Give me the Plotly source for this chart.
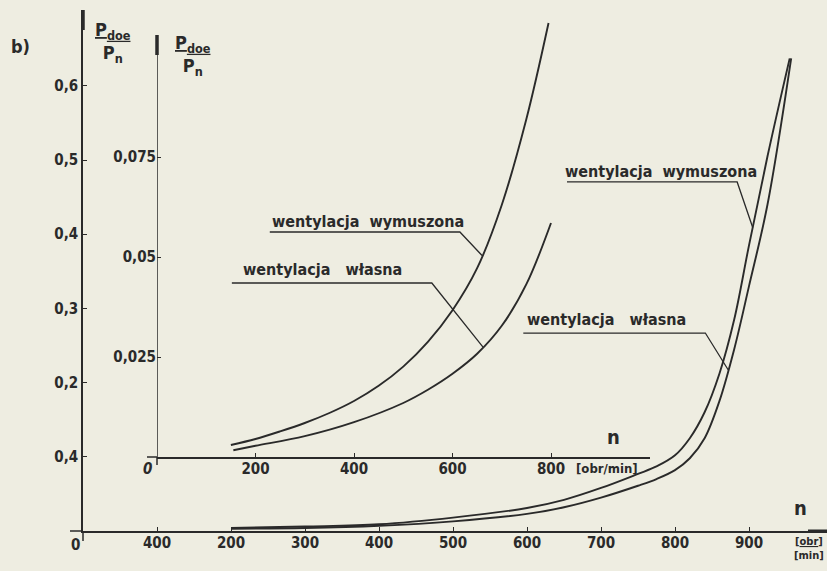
import numpy as np
import plotly.graph_objects as go

# ---------------- data ----------------
# outer chart (n in obr/min, P_dop/P_n)
n_out_wym = [200, 300, 400, 500, 600, 650, 700, 750, 775, 800, 820, 840, 860, 880, 900, 925, 955]
p_out_wym = [0.004, 0.006, 0.009, 0.018, 0.031, 0.042, 0.058, 0.077, 0.087, 0.102, 0.125, 0.160, 0.212, 0.285, 0.385, 0.505, 0.637]
n_out_wl = [200, 300, 400, 500, 600, 650, 700, 750, 775, 800, 820, 840, 860, 880, 900, 925, 957]
p_out_wl = [0.003, 0.004, 0.007, 0.013, 0.023, 0.032, 0.045, 0.061, 0.070, 0.082, 0.098, 0.125, 0.175, 0.245, 0.330, 0.440, 0.637]

# inner chart
n_in_wym = [150, 200, 250, 300, 350, 400, 450, 500, 550, 600, 650, 700, 750, 795]
p_in_wym = [0.003, 0.0045, 0.0064, 0.0085, 0.0110, 0.0140, 0.0178, 0.0226, 0.0288, 0.0367, 0.0472, 0.0630, 0.0845, 0.1085]
n_in_wl = [155, 200, 300, 400, 500, 550, 600, 650, 700, 750, 800]
p_in_wl = [0.0017, 0.0028, 0.0052, 0.0087, 0.0135, 0.0168, 0.0208, 0.0258, 0.0328, 0.0432, 0.0585]

out_x_ticks = [100, 200, 300, 400, 500, 600, 700, 800, 900]
out_x_text = ["400", "200", "300", "400", "500", "600", "700", "800", "900"]
out_y_ticks = [0.1, 0.2, 0.3, 0.4, 0.5, 0.6]
out_y_text = ["0,4", "0,2", "0,3", "0,4", "0,5", "0,6"]
in_x_ticks = [200, 400, 600, 800]
in_x_text = ["200", "400", "600", "800"]
in_y_ticks = [0.025, 0.05, 0.075]
in_y_text = ["0,025", "0,05", "0,075"]

lbl_wym = "<b>wentylacja&nbsp;&nbsp;wymuszona</b>"
lbl_wl = "<b>wentylacja&nbsp;&nbsp;&nbsp;własna</b>"

# ---------------- style ----------------
W, H = 827, 571
INK = "#2a2a2a"
BG = "#eeede1"
FONT = "DejaVu Sans Condensed, DejaVu Sans"

def px(x):
    return x / W

def py(y):
    return 1 - y / H

fig = go.Figure()

line = dict(color=INK, width=1.9, shape="spline", smoothing=1.0)
fig.add_trace(go.Scatter(x=n_out_wym, y=p_out_wym, mode="lines", line=line, xaxis="x", yaxis="y", hoverinfo="skip"))
fig.add_trace(go.Scatter(x=n_out_wl, y=p_out_wl, mode="lines", line=line, xaxis="x", yaxis="y", hoverinfo="skip"))
fig.add_trace(go.Scatter(x=n_in_wym, y=p_in_wym, mode="lines", line=line, xaxis="x2", yaxis="y2", hoverinfo="skip"))
fig.add_trace(go.Scatter(x=n_in_wl, y=p_in_wl, mode="lines", line=line, xaxis="x2", yaxis="y2", hoverinfo="skip"))

tickfont = dict(family=FONT, size=15, color=INK, weight="bold")
common = dict(showgrid=False, zeroline=False, ticks="inside", ticklen=4, tickwidth=1.3,
              tickcolor=INK, tickfont=tickfont, fixedrange=True)

# outer: origin at (83, 531) px; 0.74 px per obr/min; 742 px per unit
out_top_px = 10
fig.update_layout(
    xaxis=dict(domain=[px(83), 1.0], range=[0, (W - 83) / 0.74], anchor="y",
               tickvals=out_x_ticks, ticktext=out_x_text, ticklabelstandoff=-3,
               showline=True, linecolor=INK, linewidth=1.5, **common),
    yaxis=dict(domain=[py(531), py(out_top_px)], range=[0, (531 - out_top_px) / 742], anchor="x",
               tickvals=out_y_ticks, ticktext=out_y_text,
               showline=True, linecolor=INK, linewidth=1.5, **common),
    # inner: origin at (157, 457) px; 0.4925 px per obr/min; 4000 px per unit
    xaxis2=dict(domain=[px(157), px(650)], range=[0, (650 - 157) / 0.4925], anchor="y2",
                tickvals=in_x_ticks, ticktext=in_x_text, ticklabelstandoff=-3,
                showline=True, linecolor=INK, linewidth=1.5, **common),
    yaxis2=dict(domain=[py(457), py(out_top_px)], range=[0, (457 - out_top_px) * 0.00025], anchor="x2",
                tickvals=in_y_ticks, ticktext=in_y_text,
                showline=False, **common),
)

inner_axis_top = (457 - 35) * 0.00025

shapes = []
# inner y axis line
shapes.append(dict(type="line", xref="x2", yref="y2", x0=0, x1=0, y0=0, y1=inner_axis_top,
                   line=dict(color=INK, width=1.5)))
# thick tips of the vertical axes
shapes.append(dict(type="line", xref="paper", yref="paper", x0=px(83), x1=px(83), y0=py(10), y1=py(30),
                   line=dict(color=INK, width=3.5)))
shapes.append(dict(type="line", xref="paper", yref="paper", x0=px(157), x1=px(157), y0=py(35), y1=py(55),
                   line=dict(color=INK, width=3.5)))
# thick tip at right of outer x axis
shapes.append(dict(type="line", xref="paper", yref="paper", x0=px(808), x1=px(827), y0=py(531), y1=py(531),
                   line=dict(color=INK, width=3)))
# axis extensions beyond origins
shapes.append(dict(type="line", xref="paper", yref="paper", x0=px(70), x1=px(83), y0=py(531), y1=py(531),
                   line=dict(color=INK, width=1.5)))
shapes.append(dict(type="line", xref="paper", yref="paper", x0=px(83), x1=px(83), y0=py(531), y1=py(541),
                   line=dict(color=INK, width=1.5)))
shapes.append(dict(type="line", xref="paper", yref="paper", x0=px(147), x1=px(157), y0=py(457), y1=py(457),
                   line=dict(color=INK, width=1.5)))
shapes.append(dict(type="line", xref="paper", yref="paper", x0=px(157), x1=px(157), y0=py(457), y1=py(465),
                   line=dict(color=INK, width=1.5)))

def leader(xr, yr, x_start, x_end, y_ul, n_tip, ns, ps):
    p_tip = float(np.interp(n_tip, ns, ps))
    return dict(type="path", xref=xr, yref=yr,
                path=f"M {x_start},{y_ul} L {x_end},{y_ul} L {n_tip},{p_tip}",
                line=dict(color=INK, width=1.3))

shapes.append(leader("x2", "y2", 229, 615, 0.05625, 660, n_in_wym, p_in_wym))
shapes.append(leader("x2", "y2", 152, 558, 0.0435, 662, n_in_wl, p_in_wl))
shapes.append(leader("x", "y", 654, 884, 0.4704, 905, n_out_wym, p_out_wym))
shapes.append(leader("x", "y", 595, 841, 0.2668, 872, n_out_wl, p_out_wl))

fig.update_layout(shapes=shapes)

lblfont = dict(family=FONT, size=16, color=INK)
ann = []
ann.append(dict(xref="x2", yref="y2", x=428, y=0.0588, text=lbl_wym, showarrow=False, font=lblfont))
ann.append(dict(xref="x2", yref="y2", x=336, y=0.0468, text=lbl_wl, showarrow=False, font=lblfont))
ann.append(dict(xref="x", yref="y", x=781, y=0.484, text=lbl_wym, showarrow=False, font=lblfont))
ann.append(dict(xref="x", yref="y", x=708, y=0.2844, text=lbl_wl, showarrow=False, font=lblfont))

def pa(x, y, text, size=14, **kw):
    d = dict(xref="paper", yref="paper", x=px(x), y=py(y), text=text, showarrow=False,
             xanchor="center", yanchor="middle",
             font=dict(family=FONT, size=size, color=INK, weight="bold"))
    d.update(kw)
    return d

ann.append(pa(20, 46, "b)", size=18))
ann.append(pa(113, 42, "<u>P<sub>doe</sub></u><br>P<sub>n</sub>", size=18))
ann.append(pa(193, 56, "<u>P<sub>doe</sub></u><br>P<sub>n</sub>", size=18))
ann.append(pa(75, 545, "0", size=15))
ann.append(pa(147, 469, "<i>0</i>", size=15))
ann.append(pa(800, 508, "n", size=20))
ann.append(pa(809, 548, "[<u>obr</u>]<br>[min]", size=11))
ann.append(pa(613, 437, "n", size=20))
ann.append(pa(607, 468, "[obr/min]", size=13))
fig.update_layout(annotations=ann)

fig.update_layout(width=W, height=H, margin=dict(l=0, r=0, t=0, b=0),
                  paper_bgcolor=BG, plot_bgcolor="rgba(0,0,0,0)", showlegend=False,
                  font=dict(family=FONT, color=INK))

fig.write_html("out.html", config={"displayModeBar": False},
               post_script="document.body.style.margin='0px';document.body.style.background='%s';" % BG)
